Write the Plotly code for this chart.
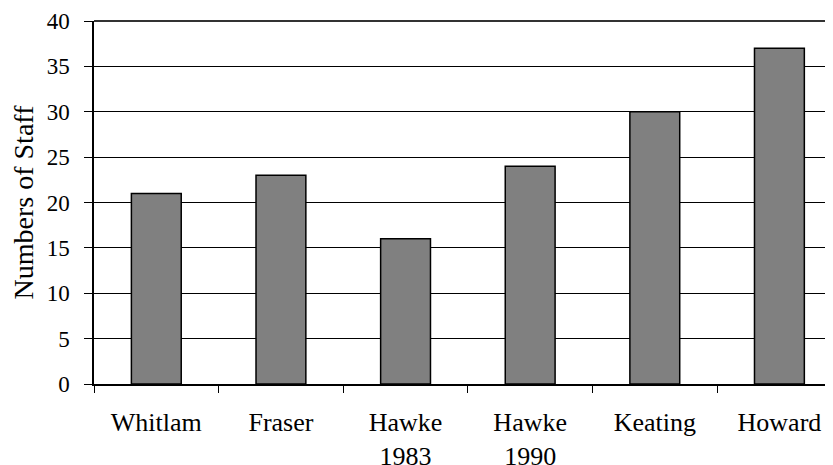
import plotly.graph_objects as go

categories = ["Whitlam", "Fraser", "Hawke<br>1983", "Hawke<br>1990", "Keating", "Howard"]
staff = [21, 23, 16, 24, 30, 37]
y_ticks = [0, 5, 10, 15, 20, 25, 30, 35, 40]

fig = go.Figure()
fig.add_trace(go.Bar(
    x=categories, y=staff,
    marker=dict(color="#808080", line=dict(color="black", width=1.5)),
    width=0.4,
))

font = "Liberation Serif, Times New Roman, serif"
fig.update_layout(
    width=833, height=465,
    margin=dict(l=86, r=8, t=13, b=89),
    paper_bgcolor="white", plot_bgcolor="white",
    showlegend=False,
    font=dict(family=font, color="black"),
)
fig.update_xaxes(
    range=[-0.5, 5.43], automargin=False,
    showline=True, linecolor="black", linewidth=1.5,
    ticks="outside", tickson="boundaries", ticklen=7, tickcolor="black",
    tickfont=dict(size=26, family=font, color="black"),
    ticklabelstandoff=14,
    showgrid=False,
)
fig.update_yaxes(
    range=[0, 40], tickvals=y_ticks, automargin=False,
    showline=True, linecolor="black", linewidth=1.5,
    ticks="outside", ticklen=8, tickcolor="black",
    tickfont=dict(size=23, family=font, color="black"),
    ticklabelstandoff=10,
    showgrid=True, gridcolor="black", gridwidth=1,
    zeroline=False,
    title=dict(text="Numbers of Staff", font=dict(size=28, family=font, color="black"), standoff=10),
)
fig.add_shape(type="line", xref="paper", yref="paper", x0=0, x1=1, y0=1, y1=1,
              line=dict(color="#333333", width=2))

fig.write_html("out.html")
